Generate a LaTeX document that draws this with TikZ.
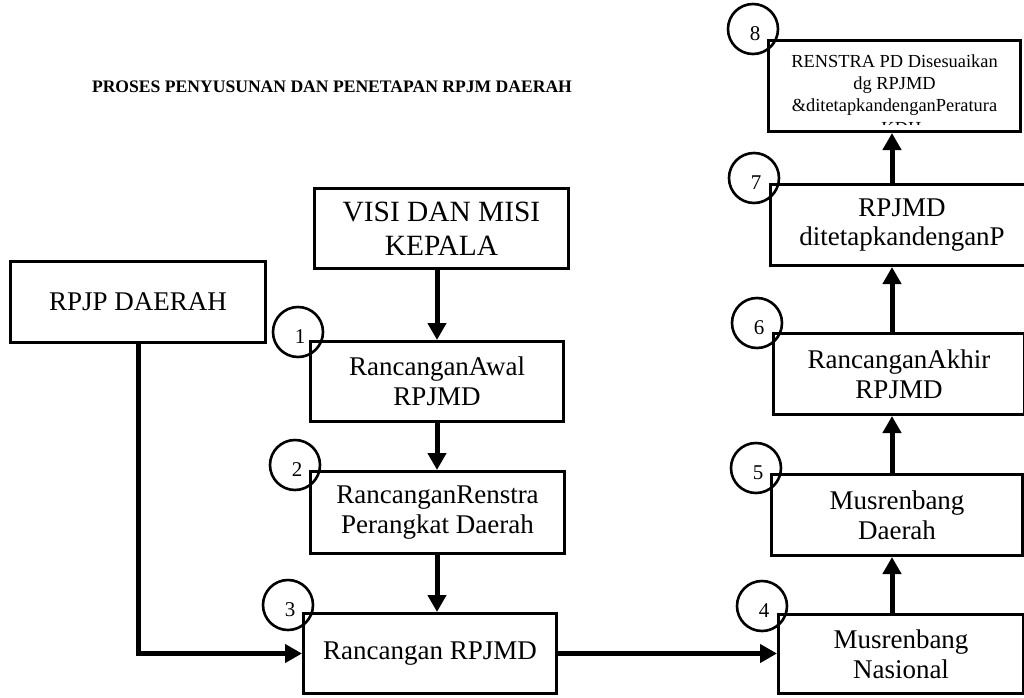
\documentclass[tikz,border=0pt]{standalone}
\usepackage{fontspec}
\setmainfont{Liberation Serif}
\usetikzlibrary{arrows.meta}

\tikzset{
    box/.style={draw, line width=1.5pt, fill=white, inner sep=0pt, align=center,
        font=\fontsize{13.5}{14.8}\selectfont},
    numcirc/.style={draw, circle, line width=1.3pt, minimum size=25pt, inner sep=0pt},
    numtext/.style={font=\fontsize{10.5}{11}\selectfont, inner sep=0pt, anchor=base},
    flow/.style={line width=2.5pt, -{Triangle[length=8.5pt, width=9pt]}}
}

\begin{document}
\begin{tikzpicture}[x=0.5pt, y=-0.5pt]
\useasboundingbox (0,0) rectangle (1024,697);
\clip (0,0) rectangle (1024,697);

\node[font=\bfseries\fontsize{8.8}{10}\selectfont, inner sep=0pt] (title) at (332,87)
    {PROSES PENYUSUNAN DAN PENETAPAN RPJM DAERAH};

% left column
\node[box, minimum width=127pt, minimum height=40pt, font=\fontsize{14.7}{17}\selectfont] (visi)
    at (441.5,228.5) {VISI DAN MISI\\KEPALA};
\node[box, minimum width=127.5pt, minimum height=40.5pt] (rpjp) at (138,302) {RPJP DAERAH};
\node[box, minimum width=126.5pt, minimum height=40pt] (awal) at (437,381.5) {RancanganAwal\\RPJMD};
\node[box, minimum width=127pt, minimum height=41pt] (rrenstra) at (437.5,512.5) {RancanganRenstra\\Perangkat Daerah};
\node[box, minimum width=126.5pt, minimum height=40pt] (rancangan) at (430,653.5) {Rancangan RPJMD};

% right column
\node[box, minimum width=122.5pt, minimum height=39.5pt] (nasional) at (901,654) {Musrenbang\\Nasional};
\node[box, minimum width=125.5pt, minimum height=40.5pt] (daerah) at (897,515) {Musrenbang\\Daerah};
\node[box, minimum width=125.5pt, minimum height=40.5pt] (akhir) at (899,374) {RancanganAkhir\\RPJMD};
\node[box, minimum width=131.5pt, minimum height=40.5pt] (tetap) at (902,225) {RPJMD\\ditetapkandenganP};
\node[box, minimum width=126pt, minimum height=45.5pt] (renstrapd) at (894.5,86) {};
\begin{scope}
    \clip ([yshift=4.5pt]renstrapd.south west) rectangle (renstrapd.north east);
    \node[anchor=north, align=center, inner sep=0pt, font=\fontsize{9.2}{11.2}\selectfont] (renstrapdtext)
        at (894.5,54) {RENSTRA PD Disesuaikan\\dg RPJMD\\\&ditetapkandenganPeratura\\n KDH};
\end{scope}

\coordinate (lcol) at (437,0);
\coordinate (rcol) at (892,0);

\draw[flow] (visi.south -| lcol) -- (awal.north -| lcol);
\draw[flow] (awal.south -| lcol) -- (rrenstra.north -| lcol);
\draw[flow] (rrenstra.south -| lcol) -- (rancangan.north -| lcol);
\draw[flow] (rpjp.south) |- (rancangan.west);
\draw[flow] (rancangan.east) -- (rancangan.east -| nasional.west);
\foreach \a/\b in {nasional/daerah, daerah/akhir, akhir/tetap, tetap/renstrapd}
    \draw[flow] (\a.north -| rcol) -- (\b.south -| rcol);

% step numbers
\foreach \n/\cx/\cy in {1/298/332, 2/295/465, 3/288/605, 4/762/606,
    5/756/468, 6/757/323, 7/754/178, 8/753/29} {
    \node[numcirc] (c\n) at (\cx,\cy) {};
    \node[numtext] (n\n) at ([xshift=1pt, yshift=-5.5pt]c\n.center) {\n};
}

\end{tikzpicture}
\end{document}
